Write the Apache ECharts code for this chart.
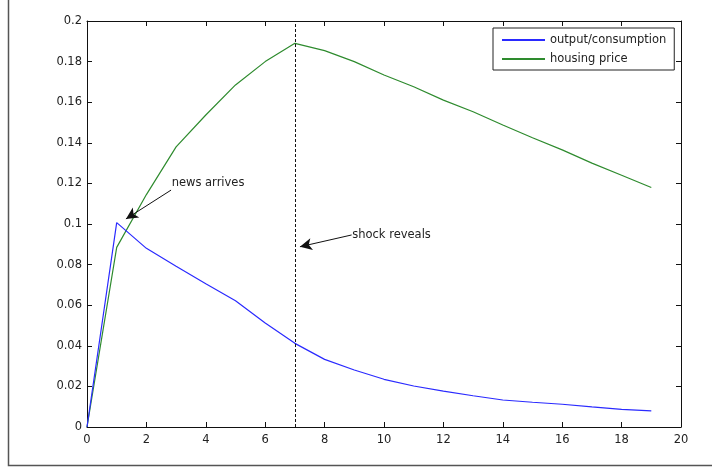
<!DOCTYPE html>
<html><head><meta charset="utf-8">
<script src="https://cdn.jsdelivr.net/npm/echarts@6/dist/echarts.min.js"></script>
<style>html,body{margin:0;padding:0;background:#fff}#c{width:712px;height:467px}</style>
</head><body><div id="c"></div>
<script>
const periods = [0,1,2,3,4,5,6,7,8,9,10,11,12,13,14,15,16,17,18,19];
const outputConsumption = [0, 0.1007, 0.088, 0.0792, 0.0706, 0.0622, 0.0512, 0.0412, 0.0333, 0.0281, 0.0235, 0.0202, 0.0177, 0.0154, 0.0133, 0.0122, 0.0112, 0.0099, 0.0087, 0.0079];
const housingPrice = [0, 0.0885, 0.1145, 0.138, 0.1537, 0.1685, 0.180, 0.189, 0.1854, 0.180, 0.1734, 0.1676, 0.161, 0.1553, 0.1488, 0.1425, 0.1365, 0.130, 0.124, 0.118];
const seriesNames = ['output/consumption', 'housing price'];
const shockPeriod = 7;
const annotationTexts = ['news arrives', 'shock reveals'];
const annotationTextAt = [[2.85, 0.1202], [8.93, 0.0944]];
const arrowFrom = [[2.83, 0.1167], [8.91, 0.0946]];
const arrowTo = [[1.31, 0.1025], [7.17, 0.0888]];

const FONT = 'DejaVu Sans';
const chart = echarts.init(document.getElementById('c'), null, {renderer: 'canvas'});
const axisCommon = {
  type: 'value', min: 0,
  axisLine: {show: true, onZero: false, lineStyle: {color: '#111', width: 1}},
  axisTick: {show: true, inside: true, length: 5, lineStyle: {color: '#111'}},
  splitLine: {show: false}
};
const pairs = (xs, ys) => xs.map((x, i) => [x, ys[i]]);
const option = {
  animation: false,
  backgroundColor: '#fff',
  grid: {left: 87, right: 31, top: 21, bottom: 40, containLabel: false, outerBoundsMode: 'none'},
  xAxis: [
    Object.assign({}, axisCommon, {position: 'bottom', max: 20, interval: 2,
      axisLabel: {color: '#222', fontFamily: FONT, fontSize: 11.5, margin: 7}}),
    Object.assign({}, axisCommon, {position: 'top', max: 20, interval: 2, axisLabel: {show: false}})
  ],
  yAxis: [
    Object.assign({}, axisCommon, {position: 'left', max: 0.2, interval: 0.02,
      axisLabel: {color: '#222', fontFamily: FONT, fontSize: 11.5, margin: 5,
        formatter: v => String(Math.round(v * 100) / 100)}}),
    Object.assign({}, axisCommon, {position: 'right', max: 0.2, interval: 0.02, axisLabel: {show: false}})
  ],
  legend: {
    data: seriesNames, orient: 'vertical', left: 493, top: 28,
    padding: [6, 8, 5, 8], itemGap: 7, itemWidth: 43, itemHeight: 14,
    borderColor: '#222', borderWidth: 1, backgroundColor: '#fff',
    itemStyle: {opacity: 0},
    textStyle: {color: '#222', fontFamily: FONT, fontSize: 11.5}
  },
  series: [
    {name: seriesNames[0], type: 'line', symbol: 'none', data: pairs(periods, outputConsumption),
      lineStyle: {color: '#2a2aff', width: 1.2}, itemStyle: {color: '#2a2aff'}, z: 3},
    {name: seriesNames[1], type: 'line', symbol: 'none', data: pairs(periods, housingPrice),
      lineStyle: {color: '#2e8b2e', width: 1.2}, itemStyle: {color: '#2e8b2e'}, z: 2},
    {name: 'shock', type: 'line', data: [], markLine: {
      silent: true, symbol: ['none', 'none'], label: {show: false},
      lineStyle: {color: '#111', type: [3, 2], width: 1},
      data: [{xAxis: shockPeriod}]}},
    {name: 'arrows', type: 'line', data: [], markLine: {
      silent: true, symbol: ['none', 'arrow'], symbolSize: [9, 12], label: {show: false},
      lineStyle: {color: '#111', type: 'solid', width: 1},
      data: arrowFrom.map((f, i) => [{coord: f}, {coord: arrowTo[i]}])}}
  ]
};
chart.setOption(option);
const texts = annotationTexts.map((t, i) => {
  const p = chart.convertToPixel({gridIndex: 0}, annotationTextAt[i]);
  return {type: 'text', x: p[0], y: p[1], style: {text: t, fill: '#222', font: '11.5px ' + FONT,
    textAlign: 'left', textVerticalAlign: 'middle'}};
});
chart.setOption({graphic: [
  {type: 'polyline', shape: {points: [[8.5, 0], [8.5, 465.5], [712, 465.5]]},
    style: {stroke: '#555', lineWidth: 1.5, fill: null}}
].concat(texts)});
</script></body></html>
